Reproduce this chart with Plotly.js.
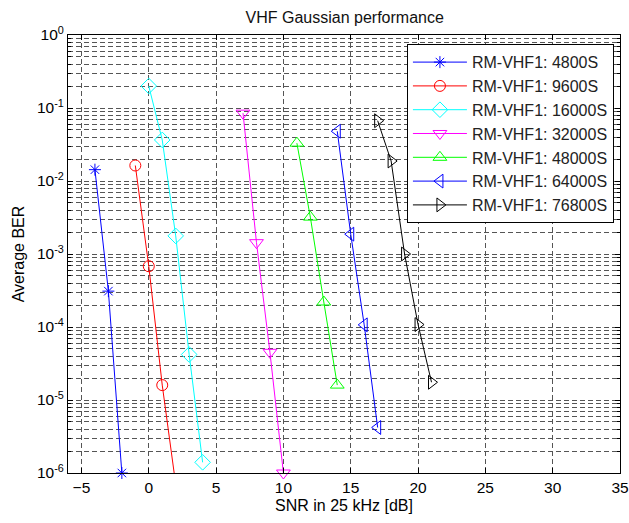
<!DOCTYPE html>
<html>
<head>
<meta charset="utf-8">
<script src="https://cdn.plot.ly/plotly-3.0.1.min.js"></script>
<style>html,body{margin:0;padding:0;background:#fff;}#chart{width:629px;height:523px;}</style>
</head>
<body>
<div id="chart"></div>
<script>
// Series names
const seriesNames = ["RM-VHF1: 4800S","RM-VHF1: 9600S","RM-VHF1: 16000S","RM-VHF1: 32000S","RM-VHF1: 48000S","RM-VHF1: 64000S","RM-VHF1: 76800S"];
// SNR values (dB) per series
const snr4800  = [-4, -3, -2];
const snr9600  = [-1, 0, 1, 2];
const snr16000 = [0, 1, 2, 3, 4];
const snr32000 = [7, 8, 9, 10];
const snr48000 = [11, 12, 13, 14];
const snr64000 = [14, 15, 16, 17];
const snr76800 = [17, 18, 19, 20, 21];
// Average BER per series
const ber4800  = [0.0143, 3.1e-4, 1.0e-6];
const ber9600  = [0.0163, 6.8e-4, 1.6e-5, 7e-7];
const ber16000 = [0.2, 0.0365, 1.77e-3, 4.2e-5, 1.4e-6];
const ber32000 = [0.085, 1.43e-3, 4.5e-5, 1.0e-6];
const ber48000 = [0.033, 3.2e-3, 2.2e-4, 1.6e-5];
const ber64000 = [0.048, 1.87e-3, 1.07e-4, 4.2e-6];
const ber76800 = [0.067, 0.0188, 1.0e-3, 1.08e-4, 1.75e-5];
// Y tick labels
const yTickVals = [1e-6, 1e-5, 1e-4, 1e-3, 1e-2, 1e-1, 1];
const yTickText = ["10<sup>-6</sup>","10<sup>-5</sup>","10<sup>-4</sup>","10<sup>-3</sup>","10<sup>-2</sup>","10<sup>-1</sup>","10<sup>0</sup>"];

const colors = ["#0000ff","#ff0000","#00ffff","#ff00ff","#00ff00","#0000ff","#000000"];
const symbols = ["asterisk-open","circle-open","diamond-open","triangle-down-open","triangle-up-open","triangle-left-open","triangle-right-open"];
const sizes = [10, 11, 12, 12, 12, 12, 12];
const xs = [snr4800, snr9600, snr16000, snr32000, snr48000, snr64000, snr76800];
const ys = [ber4800, ber9600, ber16000, ber32000, ber48000, ber64000, ber76800];
const clip = [false, true, true, false, true, true, true];

const traces = seriesNames.map((n, i) => ({
  type: 'scatter', mode: 'lines+markers', name: n,
  x: xs[i], y: ys[i], cliponaxis: clip[i],
  line: {color: colors[i], width: 1},
  marker: {symbol: symbols[i], size: sizes[i], color: colors[i], line: {color: colors[i], width: 1}}
}));

const fam = 'Liberation Sans, Arial, sans-serif';
const font = {family: fam, size: 16, color: '#000'};
const tickFont = {family: fam, size: 15.5, color: '#000'};
const gridDash = '5px,3px';
const gridColor = '#555';

const layout = {
  width: 629, height: 523,
  margin: {l: 68, r: 9, t: 35, b: 50},
  paper_bgcolor: '#fff', plot_bgcolor: '#fff',
  font: font,
  showlegend: true,
  title: {text: 'VHF Gaussian performance', font: {family: fam, size: 16, color: '#111'}, x: 0.548, xanchor: 'center', y: 0.967, yanchor: 'middle'},
  xaxis: {
    range: [-6, 35], tick0: 0, dtick: 5, tickmode: 'linear',
    showline: true, linecolor: '#000', linewidth: 1, mirror: 'allticks',
    ticks: 'inside', ticklen: 5, tickcolor: '#000',
    showgrid: true, gridcolor: gridColor, griddash: gridDash, gridwidth: 1,
    zeroline: false, tickfont: tickFont,
    title: {text: 'SNR in 25 kHz [dB]', font: font, standoff: 5}
  },
  yaxis: {
    type: 'log', range: [-6, 0],
    tickmode: 'array', tickvals: yTickVals, ticktext: yTickText,
    showline: true, linecolor: '#000', linewidth: 1, mirror: 'allticks',
    ticks: 'inside', ticklen: 5, tickcolor: '#000',
    showgrid: true, gridcolor: gridColor, griddash: gridDash, gridwidth: 1,
    zeroline: false, tickfont: tickFont,
    minor: {dtick: 'D1', showgrid: true, gridcolor: gridColor, griddash: gridDash, gridwidth: 1, ticks: 'inside', ticklen: 3, tickcolor: '#000'},
    title: {text: 'Average BER', font: font, standoff: 8}
  },
  legend: {
    x: 0.989, xanchor: 'right', y: 0.979, yanchor: 'top',
    bgcolor: '#fff', bordercolor: '#000', borderwidth: 1,
    font: {family: fam, size: 16, color: '#222'},
    itemwidth: 54, tracegroupgap: 0
  }
};

Plotly.newPlot('chart', traces, layout, {displayModeBar: false, staticPlot: true});
</script>
</body>
</html>
